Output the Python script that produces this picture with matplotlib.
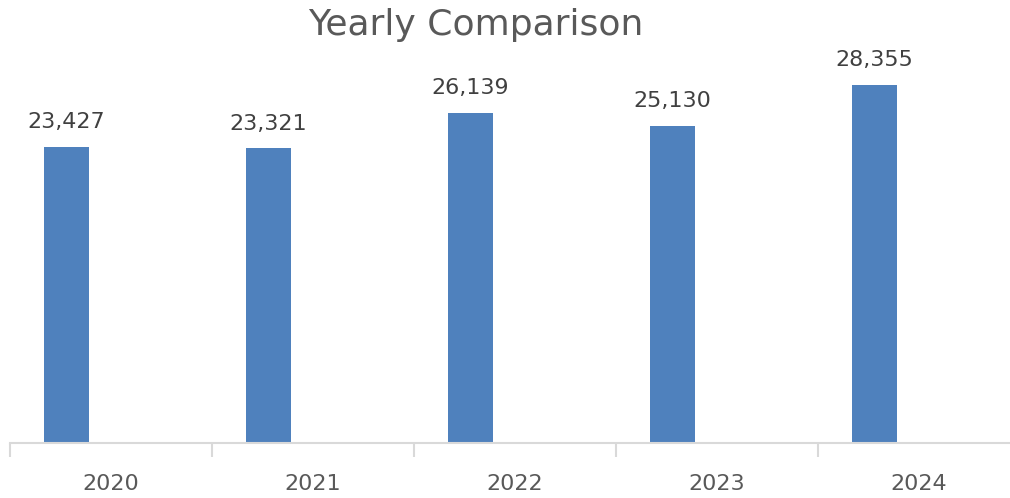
import matplotlib
matplotlib.use("Agg")
import matplotlib.pyplot as plt
import numpy as np

years = ["2020", "2021", "2022", "2023", "2024"]
values = [23427, 23321, 26139, 25130, 28355]

plt.rcParams['font.family'] = ['DejaVu Sans']

fig = plt.figure(figsize=(10.1, 4.98), dpi=100)
ax = fig.add_axes([10/1010, 1 - 443/498, 1010/1010, (443 - 40)/498])

x = np.arange(len(years))
bar_w = 0.223
bar_off = 0.28 - 0.5
bars = ax.bar(x + bar_off, values, width=bar_w, color="#4f81bd")

for xi, v in zip(x, values):
    ax.text(xi + bar_off, v + 1150, f"{v:,}", ha="center", va="bottom",
            fontsize=16, color="#404040")

ax.set_xlim(-0.5, len(years) - 0.5)
ax.set_ylim(0, 403 * 79.15)

for s in ["top", "right", "left"]:
    ax.spines[s].set_visible(False)
ax.spines["bottom"].set_color("#d9d9d9")
ax.spines["bottom"].set_linewidth(1.5)

ax.set_yticks([])
ax.set_xticks(np.arange(len(years) + 1) - 0.5)
ax.set_xticklabels([])
ax.set_xticks(x, minor=True)
ax.set_xticklabels(years, minor=True, fontsize=16, color="#595959")
ax.tick_params(axis="x", which="major", length=10, width=1.5, color="#d9d9d9")
ax.tick_params(axis="x", which="minor", length=0, pad=22)

fig.text(476/1010, 1 - 25/498, "Yearly Comparison", ha="center", va="center",
         fontsize=26, color="#595959")

fig.savefig("out.png", dpi=100)
